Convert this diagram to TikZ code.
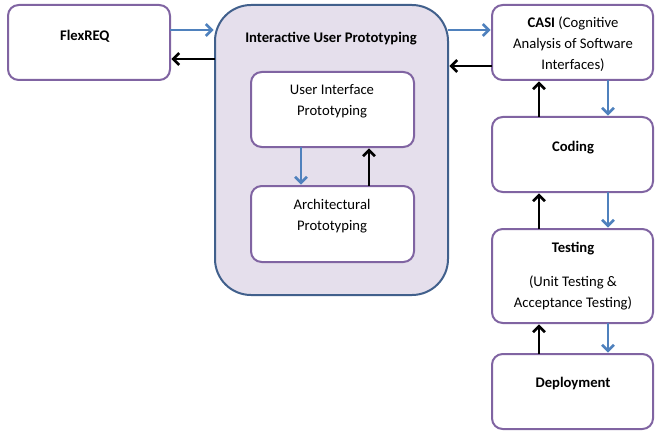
\documentclass[tikz,border=0pt]{standalone}
\usepackage{fontspec}
\setmainfont{Carlito}
\usetikzlibrary{arrows.meta,fit}
\definecolor{boxpurple}{HTML}{8064A2}
\definecolor{groupblue}{HTML}{41608C}
\definecolor{grouplav}{HTML}{E5DFEC}
\definecolor{arrowblue}{HTML}{4F81BD}
\tikzset{
	box/.style={draw=boxpurple,line width=1.5pt,rounded corners=8pt,fill=white,inner sep=0pt,outer sep=0pt},
	groupbox/.style={draw=groupblue,line width=1.5pt,rounded corners=27pt,fill=grouplav,inner sep=0pt,outer sep=0pt},
	txt/.style={font=\fontsize{11}{16}\selectfont,align=center,inner sep=0pt},
	fwd/.style={draw=arrowblue,line width=2pt,-{Straight Barb[length=4.5pt,width=9pt]},shorten >=1pt},
	back/.style={draw=black,line width=2pt,-{Straight Barb[length=4.5pt,width=9pt]},shorten >=1pt}
}
\begin{document}
\begin{tikzpicture}[x=0.75pt,y=-0.75pt]
		\useasboundingbox (0,0) rectangle (655,431);
		% boxes
		\node[box,fit={(8,5) (170,80)}] (flexreq) {};
		\node[groupbox,fit={(215,5) (448,295)}] (iup) {};
		\node[box,fit={(251,72) (414,147)}] (ui) {};
		\node[box,fit={(251,186) (414,262)}] (arch) {};
		\node[box,fit={(492,5) (653,80)}] (casi) {};
		\node[box,fit={(492,117) (653,192)}] (coding) {};
		\node[box,fit={(492,229) (653,323)}] (testing) {};
		\node[box,fit={(492,354) (653,429)}] (deploy) {};
		% texts
		\node[txt] (flexreq-t) at (85,36) {\textbf{FlexREQ}};
		\node[txt] (iup-t) at (331,39) {\textbf{Interactive User Prototyping}};
		\node[txt] (ui-t) at (332,101) {User Interface\\Prototyping};
		\node[txt] (arch-t) at (332,216) {Architectural\\Prototyping};
		\node[txt] (casi-t) at (573,44) {\textbf{CASI} (Cognitive\\Analysis of Software\\Interfaces)};
		\node[txt] (coding-t) at (573,148) {\textbf{Coding}};
		\node[txt] (testing-t) at (573,249) {\textbf{Testing}};
		\node[txt] (testing-d) at (573,293) {(Unit Testing \&\\Acceptance Testing)};
		\node[txt] (deploy-t) at (573,384) {\textbf{Deployment}};
		% connectors
		\draw[fwd] (flexreq.east |- 0,30) -- (iup.west |- 0,30);
		\draw[back] (iup.west |- 0,59) -- (flexreq.east |- 0,59);
		\draw[fwd] (iup.east |- 0,30) -- (casi.west |- 0,30);
		\draw[back] (casi.west |- 0,66) -- (iup.east |- 0,66);
		\draw[fwd] (ui.south -| 301,0) -- (arch.north -| 301,0);
		\draw[back] (arch.north -| 369,0) -- (ui.south -| 369,0);
		\draw[fwd] (casi.south -| 608,0) -- (coding.north -| 608,0);
		\draw[back] (coding.north -| 539,0) -- (casi.south -| 539,0);
		\draw[fwd] (coding.south -| 608,0) -- (testing.north -| 608,0);
		\draw[back] (testing.north -| 539,0) -- (coding.south -| 539,0);
		\draw[fwd] (testing.south -| 608,0) -- (deploy.north -| 608,0);
		\draw[back] (deploy.north -| 539,0) -- (testing.south -| 539,0);
	\end{tikzpicture}
\end{document}
